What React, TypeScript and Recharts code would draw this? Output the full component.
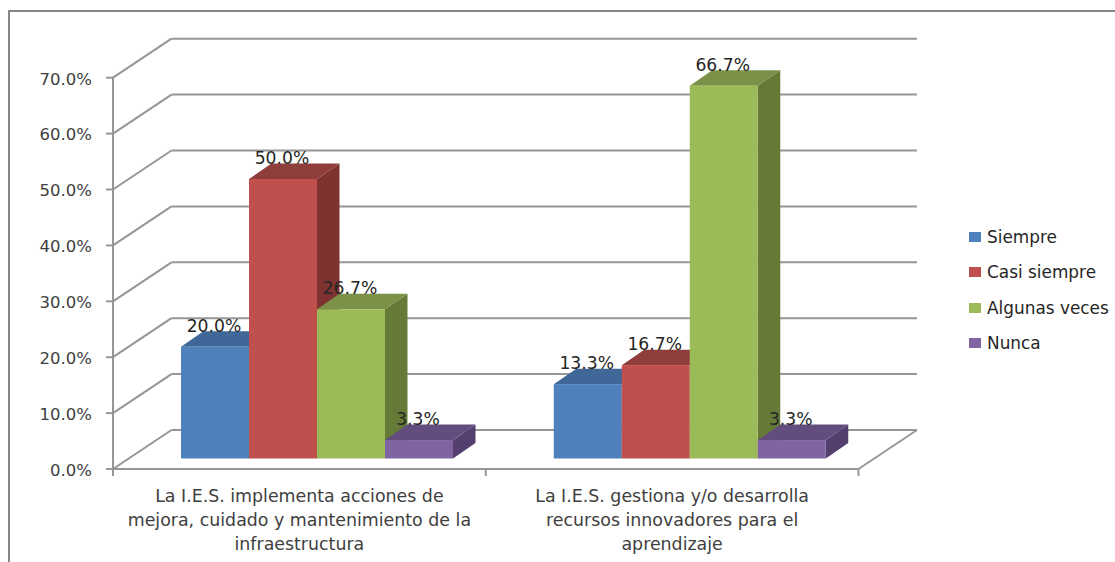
import { BarChart, Bar, XAxis, YAxis, CartesianGrid, Legend, LabelList } from 'recharts';

const categoryLines = [
  ['La I.E.S. implementa acciones de', 'mejora, cuidado y mantenimiento de la', 'infraestructura'],
  ['La I.E.S. gestiona y/o desarrolla', 'recursos innovadores para el', 'aprendizaje'],
];
const categories = ['cat1', 'cat2'];
const siempre = [20.0, 13.3];
const casiSiempre = [50.0, 16.7];
const algunasVeces = [26.7, 66.7];
const nunca = [3.3, 3.3];
const yTicks = [0, 10, 20, 30, 40, 50, 60, 70];

const chartData = categories.map((name, i) => ({
  name,
  siempre: siempre[i],
  casiSiempre: casiSiempre[i],
  algunasVeces: algunasVeces[i],
  nunca: nunca[i],
}));

const FONT = '"DejaVu Sans", sans-serif';
const LINE = '#969696';

// depth of the fake 3D box
const WALL_DX = 58.5;
const WALL_DY = -39;
const BAR_SHIFT_X = 18;
const BAR_SHIFT_Y = -10.5;
const DEPTH_X = 22.5;
const DEPTH_Y = -15.5;
const BAND = 372.75;

const series = [
  { key: 'siempre', name: 'Siempre', front: '#4F81BD', top: '#3F6797', side: '#36587F' },
  { key: 'casiSiempre', name: 'Casi siempre', front: '#C0504D', top: '#8F3E3B', side: '#7F3331' },
  { key: 'algunasVeces', name: 'Algunas veces', front: '#9BBB59', top: '#7A9147', side: '#647A36' },
  { key: 'nunca', name: 'Nunca', front: '#8064A2', top: '#634D7E', side: '#553F6E' },
];

function Box3D(props: any) {
  const { x, y, width, height, front, top, side } = props;
  const l = x + BAR_SHIFT_X;
  const r = l + width;
  const t = y + BAR_SHIFT_Y;
  const b = t + height;
  return (
    <g>
      <polygon points={`${r},${t} ${r + DEPTH_X},${t + DEPTH_Y} ${r + DEPTH_X},${b + DEPTH_Y} ${r},${b}`} fill={side} />
      <polygon points={`${l},${t} ${l + DEPTH_X},${t + DEPTH_Y} ${r + DEPTH_X},${t + DEPTH_Y} ${r},${t}`} fill={top} />
      <rect x={l} y={t} width={width} height={height} fill={front} />
    </g>
  );
}

function BarValue(props: any) {
  const { x, y, width, value } = props;
  return (
    <text
      x={x + BAR_SHIFT_X + width / 2 - 1}
      y={y + BAR_SHIFT_Y - 21}
      dy={6}
      textAnchor="middle"
      fontFamily={FONT}
      fontSize={17.2}
      fill="#262626"
    >
      {`${value.toFixed(1)}%`}
    </text>
  );
}

function wallLine(props: any) {
  const { x1, x2, y1, index } = props;
  return (
    <g key={`wall-${index}`} stroke={LINE} strokeWidth={2} fill="none">
      <line x1={x1} y1={y1} x2={x1 + WALL_DX} y2={y1 + WALL_DY} />
      <line x1={x1 + WALL_DX} y1={y1 + WALL_DY} x2={x2 + WALL_DX} y2={y1 + WALL_DY} />
      {index === 0 && <line x1={x2} y1={y1} x2={x2 + WALL_DX} y2={y1 + WALL_DY} />}
    </g>
  );
}

function CategoryTick(props: any) {
  const { x, y, index } = props;
  const lines = categoryLines[index] ?? [];
  return (
    <g>
      <line x1={x - BAND / 2} y1={y - 9} x2={x - BAND / 2} y2={y - 1} stroke={LINE} strokeWidth={2} />
      {index === categories.length - 1 && (
        <line x1={x + BAND / 2} y1={y - 9} x2={x + BAND / 2} y2={y - 1} stroke={LINE} strokeWidth={2} />
      )}
      <text textAnchor="middle" fontFamily={FONT} fontSize={17.4} fill="#404040">
        {lines.map((line: string, i: number) => (
          <tspan key={i} x={x} y={y + 25 + i * 24}>
            {line}
          </tspan>
        ))}
      </text>
    </g>
  );
}

function LegendList() {
  return (
    <div style={{ fontFamily: FONT, fontSize: 16.9, color: '#262626' }}>
      {series.map((s) => (
        <div key={s.key} style={{ display: 'flex', alignItems: 'center', height: 35.5, whiteSpace: 'nowrap' }}>
          <span style={{ width: 12, height: 10, background: s.front, marginRight: 6 }} />
          {s.name}
        </div>
      ))}
    </div>
  );
}

export default function App() {
  return (
    <div style={{ position: 'absolute', left: 0, top: 0, width: 1115, height: 562, background: '#fff', overflow: 'hidden' }}>
      {/* chart frame runs off the right and bottom of the picture */}
      <div style={{ position: 'absolute', left: 8, top: 10, width: 1200, height: 700, border: '2px solid #868686' }} />
      <div style={{ position: 'absolute', left: 0, top: 0 }}>
        <BarChart
          width={1115}
          height={562}
          data={chartData}
          margin={{ top: 77.7, right: 256.5, bottom: 13, left: 53 }}
          barSize={68}
          barGap={0}
        >
          <CartesianGrid vertical={false} horizontal={wallLine} />
          <XAxis
            dataKey="name"
            height={80}
            interval={0}
            axisLine={{ stroke: LINE, strokeWidth: 2 }}
            tickLine={false}
            tick={CategoryTick}
          />
          <YAxis
            width={60}
            domain={[0, 70]}
            ticks={yTicks}
            interval={0}
            tickSize={7}
            tickMargin={14}
            axisLine={{ stroke: LINE, strokeWidth: 2 }}
            tickLine={{ stroke: LINE, strokeWidth: 2 }}
            tick={{ fontFamily: FONT, fontSize: 16.5, fill: '#404040', dy: 1 }}
            tickFormatter={(v: number) => `${v.toFixed(1)}%`}
          />
          <Legend
            layout="horizontal"
            align="center"
            verticalAlign="middle"
            wrapperStyle={{ left: 969, top: 219, width: 146 }}
            content={LegendList}
          />
          {series.map((s) => (
            <Bar
              key={s.key}
              dataKey={s.key}
              name={s.name}
              fill={s.front}
              isAnimationActive={false}
              shape={(p: any) => <Box3D {...p} front={s.front} top={s.top} side={s.side} />}
            >
              <LabelList dataKey={s.key} content={BarValue} />
            </Bar>
          ))}
        </BarChart>
      </div>
    </div>
  );
}
